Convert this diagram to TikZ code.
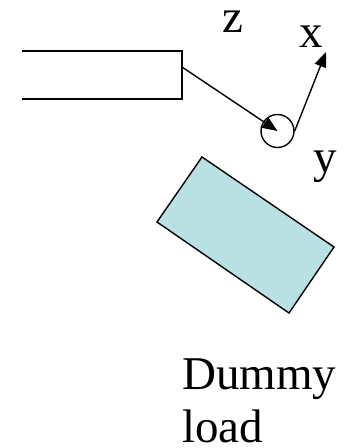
\documentclass[tikz,border=0pt]{standalone}
\usepackage{fontspec}
\setmainfont{Liberation Serif}
\usetikzlibrary{arrows.meta}
\begin{document}
\begin{tikzpicture}[x=1pt,y=-1pt,
  thin line/.style={line width=1.4pt,line cap=butt,line join=miter},
  axis arrow/.style={thin line,-{Triangle[length=15pt,width=12pt]}},
  lbl/.style={font=\fontsize{47}{53}\selectfont,inner sep=0pt,anchor=base}]
\useasboundingbox (0,0) rectangle (347,448);
% waveguide stub, open on the left
\coordinate (wgtl) at (22,51);
\coordinate (wgtr) at (182,51);
\coordinate (wgbr) at (182,99);
\coordinate (wgbl) at (22,99);
\coordinate (wgout) at (182,67);
\draw[thin line] (wgtl) -- (wgtr) -- (wgbr) -- (wgbl);
% sample sphere
\node[draw,thin line,circle,minimum size=33pt,inner sep=0pt] (sph) at (277.5,131) {};
\coordinate (xtip) at (326,52);
\draw[axis arrow] (wgout) -- (sph.center);
\draw[axis arrow] (sph.east) -- (xtip);
% axis labels
\node[lbl] (lz) at (233,32) {z};
\node[lbl] (lx) at (311.5,47) {x};
\node[lbl] (ly) at (325,172) {y};
% dummy load block
\coordinate (dl1) at (202,157);
\coordinate (dl2) at (334,247);
\coordinate (dl3) at (289,313);
\coordinate (dl4) at (157,222);
\draw[thin line,fill={rgb,255:red,185;green,224;blue,227}] (dl1) -- (dl2) -- (dl3) -- (dl4) -- cycle;
\node[lbl,anchor=base west] (dtxt) at (182,389) {Dummy};
\node[lbl,anchor=base west] (ltxt) at (182,442) {load};
\end{tikzpicture}
\end{document}
